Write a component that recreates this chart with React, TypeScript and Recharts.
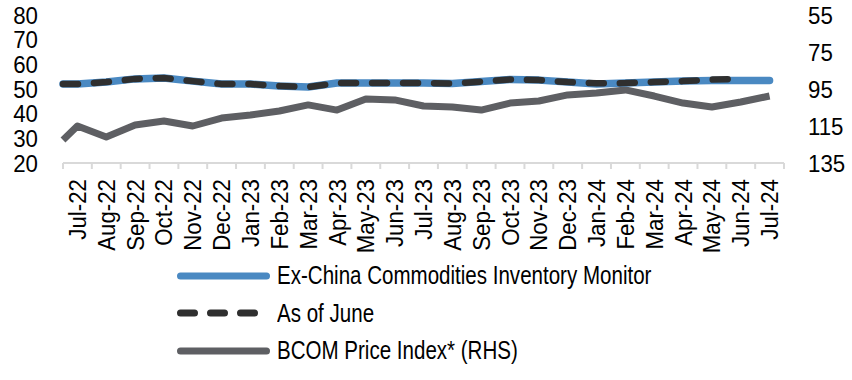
import { LineChart, Line, XAxis, YAxis, Legend } from "recharts";

const FONT = "'Liberation Sans', Arial, sans-serif";

const months = [
    "Jul-22", "Aug-22", "Sep-22", "Oct-22", "Nov-22", "Dec-22",
    "Jan-23", "Feb-23", "Mar-23", "Apr-23", "May-23", "Jun-23",
    "Jul-23", "Aug-23", "Sep-23", "Oct-23", "Nov-23", "Dec-23",
    "Jan-24", "Feb-24", "Mar-24", "Apr-24", "May-24", "Jun-24", "Jul-24",
];

// Ex-China Commodities Inventory Monitor (LHS)
const inventory = [
    52.0, 52.8, 54.1, 54.5, 53.2, 52.0, 52.0, 51.2, 50.8, 52.4, 52.4, 52.4,
    52.4, 52.2, 53.0, 53.9, 53.6, 52.8, 52.0, 52.4, 52.8, 53.2, 53.4, 53.4, 53.4,
];

// As of June vintage (ends Jun-24)
const asOfJune = [
    52.0, 52.8, 54.1, 54.5, 53.2, 52.0, 52.0, 51.2, 50.8, 52.4, 52.4, 52.4,
    52.4, 52.2, 53.0, 53.9, 53.6, 52.8, 52.3, 52.4, 52.8, 53.2, 53.8, 54.1,
];

// BCOM Price Index (RHS, inverted)
const bcom = [
    115.0, 120.9, 114.5, 112.3, 115.0, 110.7, 109.1, 106.9, 103.6, 106.4, 100.4, 100.9,
    104.2, 104.7, 106.4, 102.6, 101.5, 98.2, 97.2, 95.5, 98.8, 102.6, 104.7, 102.0, 98.8,
];

// values where the lines meet the left edge of the plot
const inventoryStart = 52.0;
const asOfJuneStart = 52.0;
const bcomStart = 122.6;

const leftTicks = [20, 30, 40, 50, 60, 70, 80];
const rightTicks = [55, 75, 95, 115, 135];

const BLUE = "#4a89c2";
const DARK = "#2f2f2f";
const GREY = "#5e5f63";

const data = [
    { x: 0, inv: inventoryStart, june: asOfJuneStart, bcom: bcomStart },
    ...months.map((m, i) => ({
        x: i + 0.5,
        inv: inventory[i],
        june: i < asOfJune.length ? asOfJune[i] : null,
        bcom: bcom[i],
    })),
];

// tick marks sit on month boundaries, labels in the middle of each month
const xTicks = months.flatMap((_, i) => [i, i + 0.5]).concat(months.length);

// eslint-disable-next-line @typescript-eslint/no-explicit-any
function MonthTick({ x, y, payload }: any) {
    const v = payload.value;
    if (Number.isInteger(v)) {
        return <line x1={x} y1={y} x2={x} y2={y + 6} stroke="#d9d9d9" strokeWidth={2} />;
    }
    return (
        <text
            transform={`translate(${x}, ${y + 16}) rotate(-90) scale(0.94, 1)`}
            dy="0.36em"
            textAnchor="end"
            fontSize={23.7}
            fontFamily={FONT}
            fill="#000"
        >
            {months[Math.floor(v)]}
        </text>
    );
}

// eslint-disable-next-line @typescript-eslint/no-explicit-any
function ValueTick({ x, y, payload, anchor }: any) {
    return (
        <text
            transform={`translate(${x}, ${y}) scale(0.94, 1)`}
            dy="0.36em"
            textAnchor={anchor}
            fontSize={23.7}
            fontFamily={FONT}
            fill="#000"
        >
            {payload.value}
        </text>
    );
}

const legendItems = [
    { name: "Ex-China Commodities Inventory Monitor", color: BLUE, dashed: false },
    { name: "As of June", color: DARK, dashed: true },
    { name: "BCOM Price Index* (RHS)", color: GREY, dashed: false },
];

function LegendContent() {
    return (
        <div style={{ fontFamily: FONT, fontSize: 26, color: "#000" }}>
            {legendItems.map((it) => (
                <div key={it.name} style={{ display: "flex", alignItems: "center", height: 37.5 }}>
                    <svg width={104} height={20} style={{ flex: "none" }}>
                        {it.dashed ? (
                            <line x1={7.5} y1={10} x2={81.5} y2={10} stroke={it.color} strokeWidth={7}
                                strokeLinecap="round" strokeDasharray="14 16" />
                        ) : (
                            <line x1={7.5} y1={10} x2={93.5} y2={10} stroke={it.color} strokeWidth={7}
                                strokeLinecap="round" />
                        )}
                    </svg>
                    <span style={{
                        whiteSpace: "nowrap",
                        display: "inline-block",
                        transform: "scaleX(0.79)",
                        transformOrigin: "left center",
                    }}>
                        {it.name}
                    </span>
                </div>
            ))}
        </div>
    );
}

export default function App() {
    return (
        <div style={{ width: 852, height: 380, background: "#fff" }}>
            <style>{"body{margin:0}"}</style>
            <LineChart
                width={852}
                height={380}
                data={data}
                margin={{ top: 15, right: 0, left: 0, bottom: 122 }}
            >
                <XAxis
                    dataKey="x"
                    type="number"
                    domain={[0, months.length]}
                    ticks={xTicks}
                    interval={0}
                    height={95}
                    tick={<MonthTick />}
                    tickLine={false}
                    tickSize={0}
                    tickMargin={0}
                    axisLine={{ stroke: "#d9d9d9", strokeWidth: 2 }}
                />
                <YAxis
                    yAxisId="left"
                    domain={[20, 80]}
                    ticks={leftTicks}
                    interval={0}
                    width={63}
                    axisLine={false}
                    tickLine={false}
                    tickSize={0}
                    tickMargin={25}
                    tick={<ValueTick anchor="end" />}
                />
                <YAxis
                    yAxisId="right"
                    orientation="right"
                    reversed
                    domain={[55, 135]}
                    ticks={rightTicks}
                    interval={0}
                    width={68}
                    axisLine={false}
                    tickLine={false}
                    tickSize={0}
                    tickMargin={24}
                    tick={<ValueTick anchor="start" />}
                />
                <Legend
                    layout="vertical"
                    align="center"
                    verticalAlign="middle"
                    wrapperStyle={{ left: 173, top: 257, width: 560 }}
                    content={<LegendContent />}
                />
                <Line
                    yAxisId="right"
                    dataKey="bcom"
                    stroke={GREY}
                    strokeWidth={7}
                    dot={false}
                    activeDot={false}
                    strokeLinejoin="round"
                    isAnimationActive={false}
                />
                <Line
                    yAxisId="left"
                    dataKey="inv"
                    stroke={BLUE}
                    strokeWidth={7.5}
                    dot={false}
                    activeDot={false}
                    strokeLinecap="round"
                    strokeLinejoin="round"
                    isAnimationActive={false}
                />
                <Line
                    yAxisId="left"
                    dataKey="june"
                    stroke={DARK}
                    strokeWidth={6.5}
                    strokeDasharray="15 16"
                    strokeLinecap="round"
                    dot={false}
                    activeDot={false}
                    isAnimationActive={false}
                />
            </LineChart>
        </div>
    );
}
